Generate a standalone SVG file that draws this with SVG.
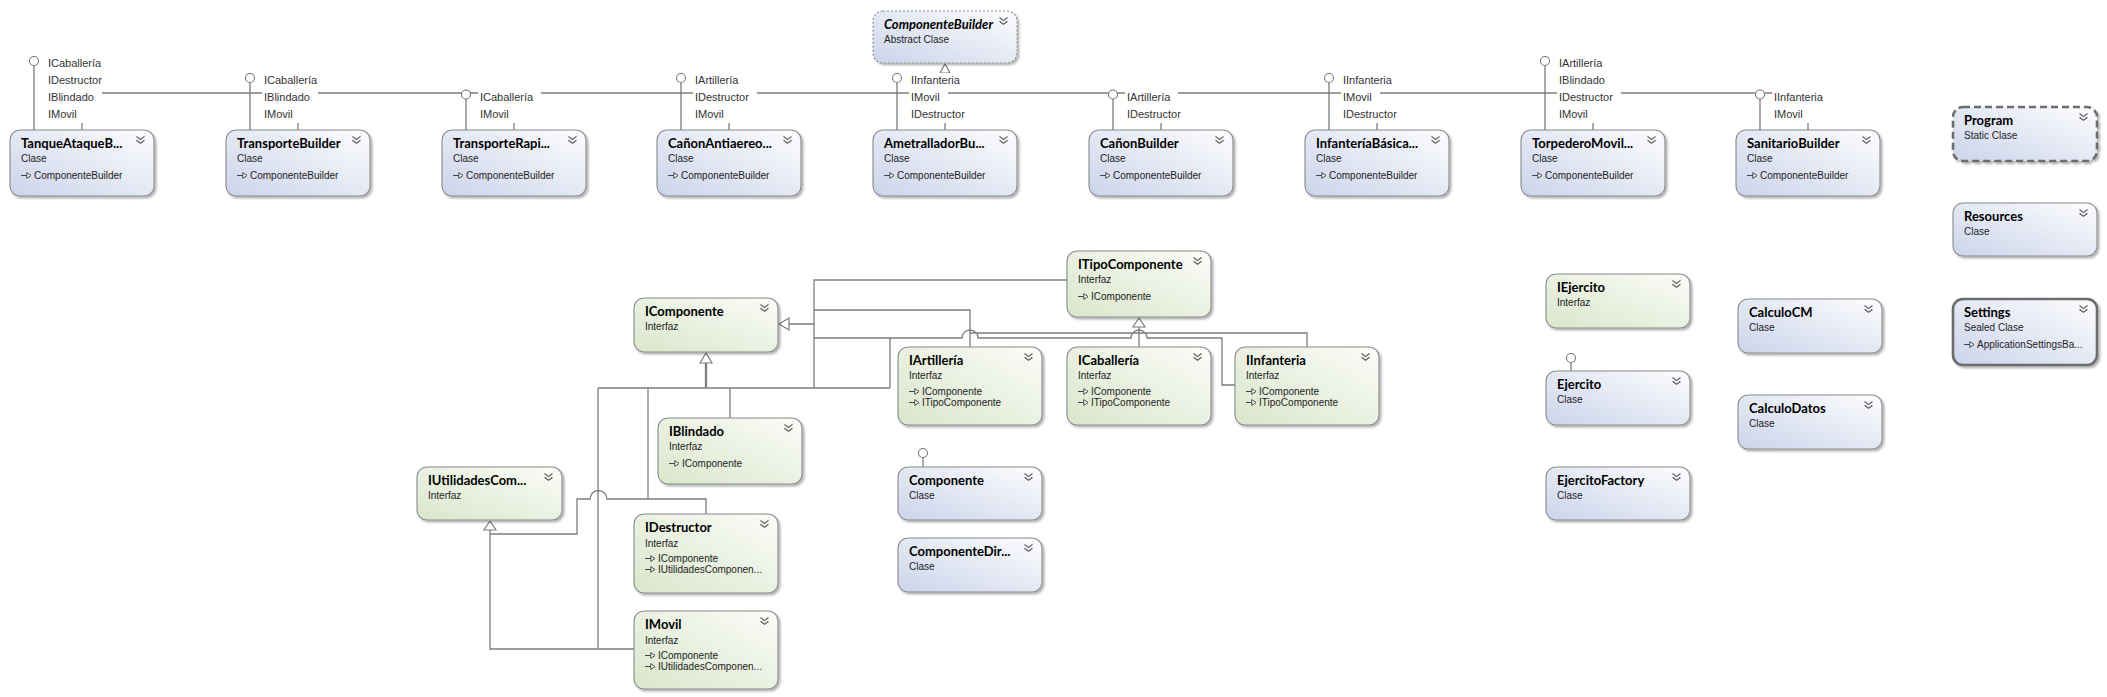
<svg xmlns="http://www.w3.org/2000/svg" width="2107" height="697" viewBox="0 0 2107 697">
<style>
.box{stroke:#8a8a8a;stroke-width:1.1;filter:url(#sh)}
.cls{fill:url(#gc)}
.ifc{fill:url(#gi)}
.abs{stroke-dasharray:2 2}
.stat{stroke:#6c6c6c;stroke-width:2.6;stroke-dasharray:7 4}
.seal{stroke:#6c6c6c;stroke-width:2.6}
.t{font-family:Lato,"Liberation Sans",sans-serif;font-weight:bold;font-size:13px;fill:#000}
.ti{font-style:italic}
.s{font-family:"Liberation Sans",Arial,sans-serif;font-size:10px;fill:#222}
.lb{font-family:"Liberation Sans",Arial,sans-serif;font-size:11px;fill:#333}
.lbg{fill:#fff}
.lp{fill:#fff;stroke:#777;stroke-width:1.1}
.stem{stroke:#7a7a7a;stroke-width:1.3}
.conn{fill:none;stroke:#7d7d7d;stroke-width:1.3}
.thick{stroke-width:2.3}
.arr{fill:#fff;stroke:#7d7d7d;stroke-width:1.2}
</style>
<defs>
<linearGradient id="gc" x1="0" y1="1" x2="1" y2="0"><stop offset="0" stop-color="#cbd4ea"/><stop offset="1" stop-color="#fdfdfe"/></linearGradient>
<linearGradient id="gi" x1="0" y1="1" x2="1" y2="0"><stop offset="0" stop-color="#dae6cb"/><stop offset="1" stop-color="#fbfcf8"/></linearGradient>
<filter id="sh" x="-10%" y="-10%" width="125%" height="130%"><feDropShadow dx="2" dy="2" stdDeviation="1.2" flood-color="#000" flood-opacity="0.3"/></filter>
<symbol id="chev" width="9" height="8" viewBox="0 0 9 8" overflow="visible"><path d="M0.5,0.5 L4.5,3.6 L8.5,0.5 M0.5,4.2 L4.5,7.3 L8.5,4.2" fill="none" stroke="#5e5e5e" stroke-width="1.2"/></symbol>
<symbol id="inh" width="11" height="7" viewBox="0 0 11 7" overflow="visible"><path d="M0,3.5 H6" stroke="#333" stroke-width="0.9"/><path d="M5.8,0.6 L10,3.5 L5.8,6.4 Z" fill="#fff" stroke="#333" stroke-width="0.9"/></symbol>
</defs>
<rect width="2107" height="697" fill="#fff"/>

<g id="connectors">
<path class="conn" d="M82,130 V93 M298,130 V93 M514,130 V93 M729,130 V93 M945,130 V93 M1161,130 V93 M1377,130 V93 M1593,130 V93 M1808,130 V93 M82,93 H1808 M945,93 V73"/>
<polygon class="arr" points="945,64 940,73 950,73"/>
<path class="conn" d="M1067,280 H814 V324 H789 M970,347 V310 H814 M1235,385 H1222 V338 H1147 A8,8 0 0 0 1131,338 H978 A8,8 0 0 0 962,338 H814 M890,338 V388 M970,347 V333 H1307 V347 M1139,347 V327 M598,388 H890 M814,324 V388 M598,388 V649 M648,388 V499 M730,388 V418 M634,649 H490 V530 M706,514 V499 H607 A8,8 0 0 0 590,499 H577 V534 H490"/>
<path class="conn thick" d="M706,363 V388"/>
<polygon class="arr" points="779,324 789,318 789,330"/>
<polygon class="arr" points="1139,318 1133,327 1145,327"/>
<polygon class="arr" points="706,353 700,363 712,363"/>
<polygon class="arr" points="490,521 484,530 496,530"/>
</g>

<g id="n-componentebuilder">
<rect class="box cls abs" x="873" y="11" width="144" height="52" rx="10"/>
<text class="t ti" x="884" y="29">ComponenteBuilder</text><use href="#chev" x="999" y="17"/>
<text class="s" x="884" y="43">Abstract Clase</text>
</g>

<g id="n-tanque">
<rect class="box cls" x="10" y="130" width="144" height="66" rx="10"/>
<text class="t" x="21" y="148">TanqueAtaqueB...</text><use href="#chev" x="136" y="136"/>
<text class="s" x="21" y="162">Clase</text><use href="#inh" x="21" y="172"/><text class="s" x="34" y="179">ComponenteBuilder</text>
<line class="stem" x1="34" y1="65.5" x2="34" y2="130"/><circle class="lp" cx="34" cy="61" r="4.5"/>
<rect class="lbg" x="46" y="55" width="63" height="17"/><rect class="lbg" x="46" y="72" width="64" height="17"/><rect class="lbg" x="46" y="89" width="56" height="17"/><rect class="lbg" x="46" y="106" width="39" height="17"/>
<text class="lb" x="48" y="67">ICaballería</text><text class="lb" x="48" y="84">IDestructor</text><text class="lb" x="48" y="101">IBlindado</text><text class="lb" x="48" y="118">IMovil</text>
</g>

<g id="n-transporte">
<rect class="box cls" x="226" y="130" width="144" height="66" rx="10"/>
<text class="t" x="237" y="148">TransporteBuilder</text><use href="#chev" x="352" y="136"/>
<text class="s" x="237" y="162">Clase</text><use href="#inh" x="237" y="172"/><text class="s" x="250" y="179">ComponenteBuilder</text>
<line class="stem" x1="250" y1="82.5" x2="250" y2="130"/><circle class="lp" cx="250" cy="78" r="4.5"/>
<rect class="lbg" x="262" y="72" width="63" height="17"/><rect class="lbg" x="262" y="89" width="56" height="17"/><rect class="lbg" x="262" y="106" width="39" height="17"/>
<text class="lb" x="264" y="84">ICaballería</text><text class="lb" x="264" y="101">IBlindado</text><text class="lb" x="264" y="118">IMovil</text>
</g>

<g id="n-transporterapido">
<rect class="box cls" x="442" y="130" width="144" height="66" rx="10"/>
<text class="t" x="453" y="148">TransporteRapi...</text><use href="#chev" x="568" y="136"/>
<text class="s" x="453" y="162">Clase</text><use href="#inh" x="453" y="172"/><text class="s" x="466" y="179">ComponenteBuilder</text>
<line class="stem" x1="466" y1="99" x2="466" y2="130"/><circle class="lp" cx="466" cy="94.5" r="4.5"/>
<rect class="lbg" x="478" y="89" width="63" height="17"/><rect class="lbg" x="478" y="106" width="39" height="17"/>
<text class="lb" x="480" y="101">ICaballería</text><text class="lb" x="480" y="118">IMovil</text>
</g>

<g id="n-canonantiaereo">
<rect class="box cls" x="657" y="130" width="144" height="66" rx="10"/>
<text class="t" x="668" y="148">CañonAntiaereo...</text><use href="#chev" x="783" y="136"/>
<text class="s" x="668" y="162">Clase</text><use href="#inh" x="668" y="172"/><text class="s" x="681" y="179">ComponenteBuilder</text>
<line class="stem" x1="681" y1="82.5" x2="681" y2="130"/><circle class="lp" cx="681" cy="78" r="4.5"/>
<rect class="lbg" x="693" y="72" width="53" height="17"/><rect class="lbg" x="693" y="89" width="64" height="17"/><rect class="lbg" x="693" y="106" width="39" height="17"/>
<text class="lb" x="695" y="84">IArtillería</text><text class="lb" x="695" y="101">IDestructor</text><text class="lb" x="695" y="118">IMovil</text>
</g>

<g id="n-ametrallador">
<rect class="box cls" x="873" y="130" width="144" height="66" rx="10"/>
<text class="t" x="884" y="148">AmetralladorBu...</text><use href="#chev" x="999" y="136"/>
<text class="s" x="884" y="162">Clase</text><use href="#inh" x="884" y="172"/><text class="s" x="897" y="179">ComponenteBuilder</text>
<line class="stem" x1="897" y1="82.5" x2="897" y2="130"/><circle class="lp" cx="897" cy="78" r="4.5"/>
<rect class="lbg" x="909" y="73" width="59" height="16"/><rect class="lbg" x="909" y="89" width="39" height="17"/><rect class="lbg" x="909" y="106" width="64" height="17"/>
<text class="lb" x="911" y="84">IInfanteria</text><text class="lb" x="911" y="101">IMovil</text><text class="lb" x="911" y="118">IDestructor</text>
</g>

<g id="n-canon">
<rect class="box cls" x="1089" y="130" width="144" height="66" rx="10"/>
<text class="t" x="1100" y="148">CañonBuilder</text><use href="#chev" x="1215" y="136"/>
<text class="s" x="1100" y="162">Clase</text><use href="#inh" x="1100" y="172"/><text class="s" x="1113" y="179">ComponenteBuilder</text>
<line class="stem" x1="1113" y1="99" x2="1113" y2="130"/><circle class="lp" cx="1113" cy="94.5" r="4.5"/>
<rect class="lbg" x="1125" y="89" width="53" height="17"/><rect class="lbg" x="1125" y="106" width="64" height="17"/>
<text class="lb" x="1127" y="101">IArtillería</text><text class="lb" x="1127" y="118">IDestructor</text>
</g>

<g id="n-infanteriabasica">
<rect class="box cls" x="1305" y="130" width="144" height="66" rx="10"/>
<text class="t" x="1316" y="148">InfanteríaBásica...</text><use href="#chev" x="1431" y="136"/>
<text class="s" x="1316" y="162">Clase</text><use href="#inh" x="1316" y="172"/><text class="s" x="1329" y="179">ComponenteBuilder</text>
<line class="stem" x1="1329" y1="82.5" x2="1329" y2="130"/><circle class="lp" cx="1329" cy="78" r="4.5"/>
<rect class="lbg" x="1341" y="72" width="59" height="17"/><rect class="lbg" x="1341" y="89" width="39" height="17"/><rect class="lbg" x="1341" y="106" width="64" height="17"/>
<text class="lb" x="1343" y="84">IInfanteria</text><text class="lb" x="1343" y="101">IMovil</text><text class="lb" x="1343" y="118">IDestructor</text>
</g>

<g id="n-torpedero">
<rect class="box cls" x="1521" y="130" width="144" height="66" rx="10"/>
<text class="t" x="1532" y="148">TorpederoMovil...</text><use href="#chev" x="1647" y="136"/>
<text class="s" x="1532" y="162">Clase</text><use href="#inh" x="1532" y="172"/><text class="s" x="1545" y="179">ComponenteBuilder</text>
<line class="stem" x1="1545" y1="65.5" x2="1545" y2="130"/><circle class="lp" cx="1545" cy="61" r="4.5"/>
<rect class="lbg" x="1557" y="55" width="53" height="17"/><rect class="lbg" x="1557" y="72" width="56" height="17"/><rect class="lbg" x="1557" y="89" width="64" height="17"/><rect class="lbg" x="1557" y="106" width="39" height="17"/>
<text class="lb" x="1559" y="67">IArtillería</text><text class="lb" x="1559" y="84">IBlindado</text><text class="lb" x="1559" y="101">IDestructor</text><text class="lb" x="1559" y="118">IMovil</text>
</g>

<g id="n-sanitario">
<rect class="box cls" x="1736" y="130" width="144" height="66" rx="10"/>
<text class="t" x="1747" y="148">SanitarioBuilder</text><use href="#chev" x="1862" y="136"/>
<text class="s" x="1747" y="162">Clase</text><use href="#inh" x="1747" y="172"/><text class="s" x="1760" y="179">ComponenteBuilder</text>
<line class="stem" x1="1760" y1="99" x2="1760" y2="130"/><circle class="lp" cx="1760" cy="94.5" r="4.5"/>
<rect class="lbg" x="1772" y="89" width="59" height="17"/><rect class="lbg" x="1772" y="106" width="40" height="17"/>
<text class="lb" x="1774" y="101">IInfanteria</text><text class="lb" x="1774" y="118">IMovil</text>
</g>

<g id="n-program">
<rect class="box cls stat" x="1953" y="107" width="144" height="54" rx="10"/>
<text class="t" x="1964" y="125">Program</text><use href="#chev" x="2079" y="113"/>
<text class="s" x="1964" y="139">Static Clase</text>
</g>
<g id="n-resources">
<rect class="box cls" x="1953" y="203" width="144" height="53" rx="10"/>
<text class="t" x="1964" y="221">Resources</text><use href="#chev" x="2079" y="209"/>
<text class="s" x="1964" y="235">Clase</text>
</g>
<g id="n-settings">
<rect class="box cls seal" x="1953" y="299" width="144" height="66" rx="10"/>
<text class="t" x="1964" y="317">Settings</text><use href="#chev" x="2079" y="305"/>
<text class="s" x="1964" y="331">Sealed Clase</text><use href="#inh" x="1964" y="341"/><text class="s" x="1977" y="348">ApplicationSettingsBa...</text>
</g>

<g id="n-calculocm">
<rect class="box cls" x="1738" y="299" width="144" height="54" rx="10"/>
<text class="t" x="1749" y="317">CalculoCM</text><use href="#chev" x="1864" y="305"/>
<text class="s" x="1749" y="331">Clase</text>
</g>
<g id="n-calculodatos">
<rect class="box cls" x="1738" y="395" width="144" height="54" rx="10"/>
<text class="t" x="1749" y="413">CalculoDatos</text><use href="#chev" x="1864" y="401"/>
<text class="s" x="1749" y="427">Clase</text>
</g>

<g id="n-iejercito">
<rect class="box ifc" x="1546" y="274" width="144" height="54" rx="10"/>
<text class="t" x="1557" y="292">IEjercito</text><use href="#chev" x="1672" y="280"/>
<text class="s" x="1557" y="306">Interfaz</text>
</g>
<g id="n-ejercito">
<rect class="box cls" x="1546" y="371" width="144" height="54" rx="10"/>
<text class="t" x="1557" y="389">Ejercito</text><use href="#chev" x="1672" y="377"/>
<text class="s" x="1557" y="403">Clase</text>
<line class="stem" x1="1571" y1="362.5" x2="1571" y2="371"/><circle class="lp" cx="1571" cy="358" r="4.5"/>
</g>
<g id="n-ejercitofactory">
<rect class="box cls" x="1546" y="467" width="144" height="53" rx="10"/>
<text class="t" x="1557" y="485">EjercitoFactory</text><use href="#chev" x="1672" y="473"/>
<text class="s" x="1557" y="499">Clase</text>
</g>

<g id="n-icomponente">
<rect class="box ifc" x="634" y="298" width="144" height="54" rx="10"/>
<text class="t" x="645" y="316">IComponente</text><use href="#chev" x="760" y="304"/>
<text class="s" x="645" y="330">Interfaz</text>
</g>
<g id="n-itipocomponente">
<rect class="box ifc" x="1067" y="251" width="144" height="66" rx="10"/>
<text class="t" x="1078" y="269">ITipoComponente</text><use href="#chev" x="1193" y="257"/>
<text class="s" x="1078" y="283">Interfaz</text><use href="#inh" x="1078" y="293"/><text class="s" x="1091" y="300">IComponente</text>
</g>
<g id="n-iartilleria">
<rect class="box ifc" x="898" y="347" width="144" height="78" rx="10"/>
<text class="t" x="909" y="365">IArtillería</text><use href="#chev" x="1024" y="353"/>
<text class="s" x="909" y="379">Interfaz</text><use href="#inh" x="909" y="388"/><text class="s" x="922" y="395">IComponente</text><use href="#inh" x="909" y="399"/><text class="s" x="922" y="406">ITipoComponente</text>
</g>
<g id="n-icaballeria">
<rect class="box ifc" x="1067" y="347" width="144" height="78" rx="10"/>
<text class="t" x="1078" y="365">ICaballería</text><use href="#chev" x="1193" y="353"/>
<text class="s" x="1078" y="379">Interfaz</text><use href="#inh" x="1078" y="388"/><text class="s" x="1091" y="395">IComponente</text><use href="#inh" x="1078" y="399"/><text class="s" x="1091" y="406">ITipoComponente</text>
</g>
<g id="n-iinfanteria">
<rect class="box ifc" x="1235" y="347" width="144" height="78" rx="10"/>
<text class="t" x="1246" y="365">IInfanteria</text><use href="#chev" x="1361" y="353"/>
<text class="s" x="1246" y="379">Interfaz</text><use href="#inh" x="1246" y="388"/><text class="s" x="1259" y="395">IComponente</text><use href="#inh" x="1246" y="399"/><text class="s" x="1259" y="406">ITipoComponente</text>
</g>
<g id="n-iblindado">
<rect class="box ifc" x="658" y="418" width="144" height="66" rx="10"/>
<text class="t" x="669" y="436">IBlindado</text><use href="#chev" x="784" y="424"/>
<text class="s" x="669" y="450">Interfaz</text><use href="#inh" x="669" y="460"/><text class="s" x="682" y="467">IComponente</text>
</g>
<g id="n-iutilidades">
<rect class="box ifc" x="417" y="467" width="145" height="53" rx="10"/>
<text class="t" x="428" y="485">IUtilidadesCom...</text><use href="#chev" x="544" y="473"/>
<text class="s" x="428" y="499">Interfaz</text>
</g>
<g id="n-idestructor">
<rect class="box ifc" x="634" y="514" width="144" height="79" rx="10"/>
<text class="t" x="645" y="532">IDestructor</text><use href="#chev" x="760" y="520"/>
<text class="s" x="645" y="547">Interfaz</text><use href="#inh" x="645" y="555"/><text class="s" x="658" y="562">IComponente</text><use href="#inh" x="645" y="566"/><text class="s" x="658" y="573">IUtilidadesComponen...</text>
</g>
<g id="n-imovil">
<rect class="box ifc" x="634" y="611" width="144" height="78" rx="10"/>
<text class="t" x="645" y="629">IMovil</text><use href="#chev" x="760" y="617"/>
<text class="s" x="645" y="644">Interfaz</text><use href="#inh" x="645" y="652"/><text class="s" x="658" y="659">IComponente</text><use href="#inh" x="645" y="663"/><text class="s" x="658" y="670">IUtilidadesComponen...</text>
</g>

<g id="n-componente">
<rect class="box cls" x="898" y="467" width="144" height="53" rx="10"/>
<text class="t" x="909" y="485">Componente</text><use href="#chev" x="1024" y="473"/>
<text class="s" x="909" y="499">Clase</text>
<line class="stem" x1="923" y1="457.5" x2="923" y2="467"/><circle class="lp" cx="923" cy="453" r="4.5"/>
</g>
<g id="n-componentedir">
<rect class="box cls" x="898" y="538" width="144" height="54" rx="10"/>
<text class="t" x="909" y="556">ComponenteDir...</text><use href="#chev" x="1024" y="544"/>
<text class="s" x="909" y="570">Clase</text>
</g>
</svg>
